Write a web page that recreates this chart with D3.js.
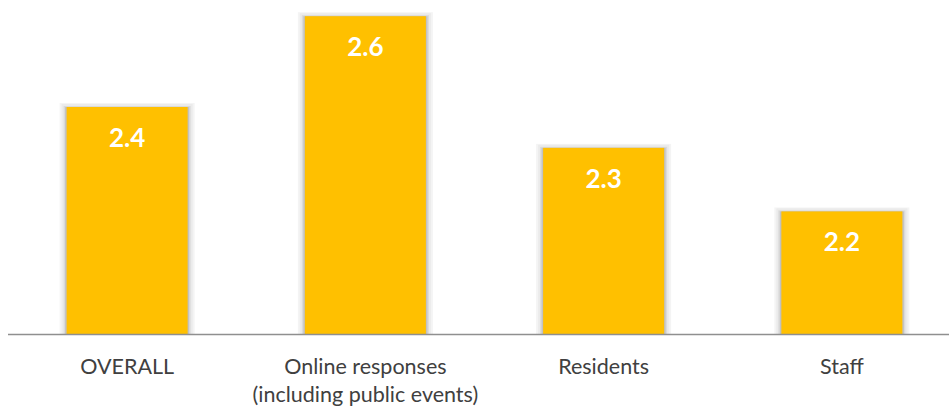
<!DOCTYPE html>
<html><head><meta charset="utf-8">
<script src="https://cdn.jsdelivr.net/npm/d3@7"></script>
<style>html,body{margin:0;padding:0;background:#fff;}svg{display:block;}</style>
</head><body>
<script>
const categories = ["OVERALL", "Online responses\n(including public events)", "Residents", "Staff"];
const values = [2.40, 2.60, 2.31, 2.17];
const yDomain = [1.9, 2.7];

const W = 949, H = 407, baseY = 334;
const svg = d3.select("body").append("svg").attr("width", W).attr("height", H);

const x = d3.scaleBand().domain(categories).range([8, 961]).paddingInner(0.492).paddingOuter(0.246);
const y = d3.scaleLinear().domain(yDomain).range([baseY, baseY - 0.8 * 454]);

const data = categories.map((c, i) => ({c, v: values[i]}));

// shadows
const sh = svg.append("g");
[[7, 4, "#f4f4f4"], [5, 3, "#ebebeb"], [3, 1, "#dadada"], [1.5, 0, "#c2c2c2"]].forEach(([dx, dy, col]) => {
  sh.selectAll(null).data(data).enter().append("rect")
    .attr("x", d => x(d.c) - dx).attr("y", d => y(d.v) - dy)
    .attr("width", x.bandwidth() + 2 * dx).attr("height", d => baseY - y(d.v) + dy)
    .attr("fill", col);
});

svg.append("g").selectAll("rect").data(data).enter().append("rect")
  .attr("x", d => x(d.c)).attr("y", d => y(d.v))
  .attr("width", x.bandwidth()).attr("height", d => baseY - y(d.v))
  .attr("fill", "#FFC000");

// axis line
const xAxis = d3.axisBottom(x).tickSize(0).tickFormat("");
const ax = svg.append("g").attr("transform", `translate(0,${baseY})`).call(xAxis);
ax.select(".domain").remove();
svg.append("line").attr("x1", 8).attr("x2", W).attr("y1", baseY + 0.5).attr("y2", baseY + 0.5)
  .attr("stroke", "#8f8f8f").attr("stroke-width", 1.5);

// value labels
svg.append("g").selectAll("text").data(data).enter().append("text")
  .attr("x", d => x(d.c) + x.bandwidth() / 2).attr("y", d => y(d.v) + 40)
  .attr("text-anchor", "middle").attr("fill", "#fff")
  .attr("font-family", "Lato, 'Open Sans', sans-serif").attr("font-weight", 700).attr("font-size", 26)
  .text(d => d3.format(".1f")(d.v));

// category labels
const cl = svg.append("g").selectAll("text").data(data).enter().append("text")
  .attr("x", d => x(d.c) + x.bandwidth() / 2).attr("y", 374)
  .attr("text-anchor", "middle").attr("fill", "#404040")
  .attr("font-family", "Lato, 'Open Sans', sans-serif").attr("font-size", 21.5);
cl.each(function(d) {
  const lines = d.c.split("\n");
  lines.forEach((ln, i) => {
    d3.select(this).append("tspan").attr("x", x(d.c) + x.bandwidth() / 2)
      .attr("dy", i === 0 ? 0 : 28).text(ln);
  });
});
</script>
</body></html>
